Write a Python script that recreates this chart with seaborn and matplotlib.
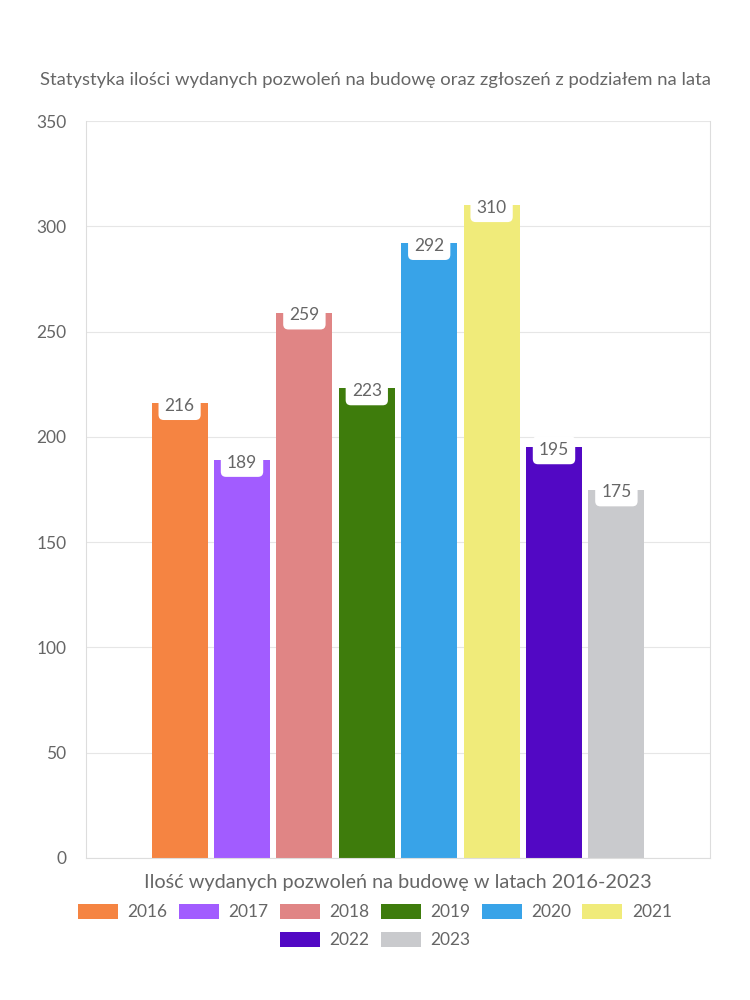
import matplotlib
matplotlib.use("Agg")
import matplotlib.pyplot as plt
import seaborn as sns
import pandas as pd

years = ["2016", "2017", "2018", "2019", "2020", "2021", "2022", "2023"]
values = [216, 189, 259, 223, 292, 310, 195, 175]
colors = ["#F58442", "#A25CFF", "#E08585", "#3E7C0C", "#38A3E8", "#F0EB7A", "#5208C4", "#C9CACD"]
title = "Statystyka ilości wydanych pozwoleń na budowę oraz zgłoszeń z podziałem na lata"
xlabel = "Ilość wydanych pozwoleń na budowę w latach 2016-2023"
yticks = [0, 50, 100, 150, 200, 250, 300, 350]

sns.set_theme(style="white")
plt.rcParams["font.family"] = ["Lato", "DejaVu Sans"]
txt = "#666666"

df = pd.DataFrame({"cat": [""] * len(years), "year": years, "value": values})

fig = plt.figure(figsize=(7.5, 10), dpi=100)
ax = fig.add_axes([86 / 750, 142 / 1000, 624 / 750, 737 / 1000])
sns.barplot(data=df, x="cat", y="value", hue="year", palette=colors,
            width=0.8, gap=0.1, ax=ax, legend=True, linewidth=0,
            saturation=1)

ax.set_ylim(0, 350)
ax.set_xlim(-0.5, 0.5)
ax.set_yticks(yticks)
ax.set_yticklabels([str(t) for t in yticks], fontsize=12.5, color=txt)
ax.set_xticks([-0.5, 0.5])
ax.set_xticklabels(["", ""])
ax.tick_params(axis="y", length=6, color="#dddddd", pad=8)
ax.tick_params(axis="x", length=6, color="#dddddd")
ax.yaxis.grid(True, color="#e6e6e6", linewidth=0.8)
ax.set_axisbelow(True)
for s in ["left", "bottom", "right", "top"]:
    ax.spines[s].set_color("#dddddd")
    ax.spines[s].set_linewidth(0.8)
ax.spines["top"].set_visible(False)
ax.set_ylabel("")
ax.set_xlabel(xlabel, fontsize=14.3, color=txt, labelpad=2)

for cont in ax.containers:
    for bar in cont:
        h = bar.get_height()
        cx = bar.get_x() + bar.get_width() / 2
        ax.annotate(f"{int(round(h))}", (cx, h), xytext=(0, -2), textcoords="offset points",
                    ha="center", va="center", fontsize=12.5, color=txt,
                    bbox=dict(boxstyle="round,pad=0.35,rounding_size=0.3", fc="white", ec="none"))

handles, labels = ax.get_legend_handles_labels()
ax.get_legend().remove()
common = dict(frameon=False, fontsize=12.5, handlelength=2.3, handleheight=1.0,
              columnspacing=0.65, handletextpad=0.55, labelcolor=txt, loc="center")
leg1 = fig.legend(handles[:6], labels[:6], ncol=6, bbox_to_anchor=(0.5, 0.088), **common)
leg2 = fig.legend(handles[6:], labels[6:], ncol=2, bbox_to_anchor=(0.5, 0.060), **common)
for leg in (leg1, leg2):
    for p in leg.get_patches():
        p.set_edgecolor("none")

fig.text(0.5, 0.92, title, ha="center", va="center", fontsize=13.3, color=txt)

fig.savefig("out.png", dpi=100, facecolor="white")
